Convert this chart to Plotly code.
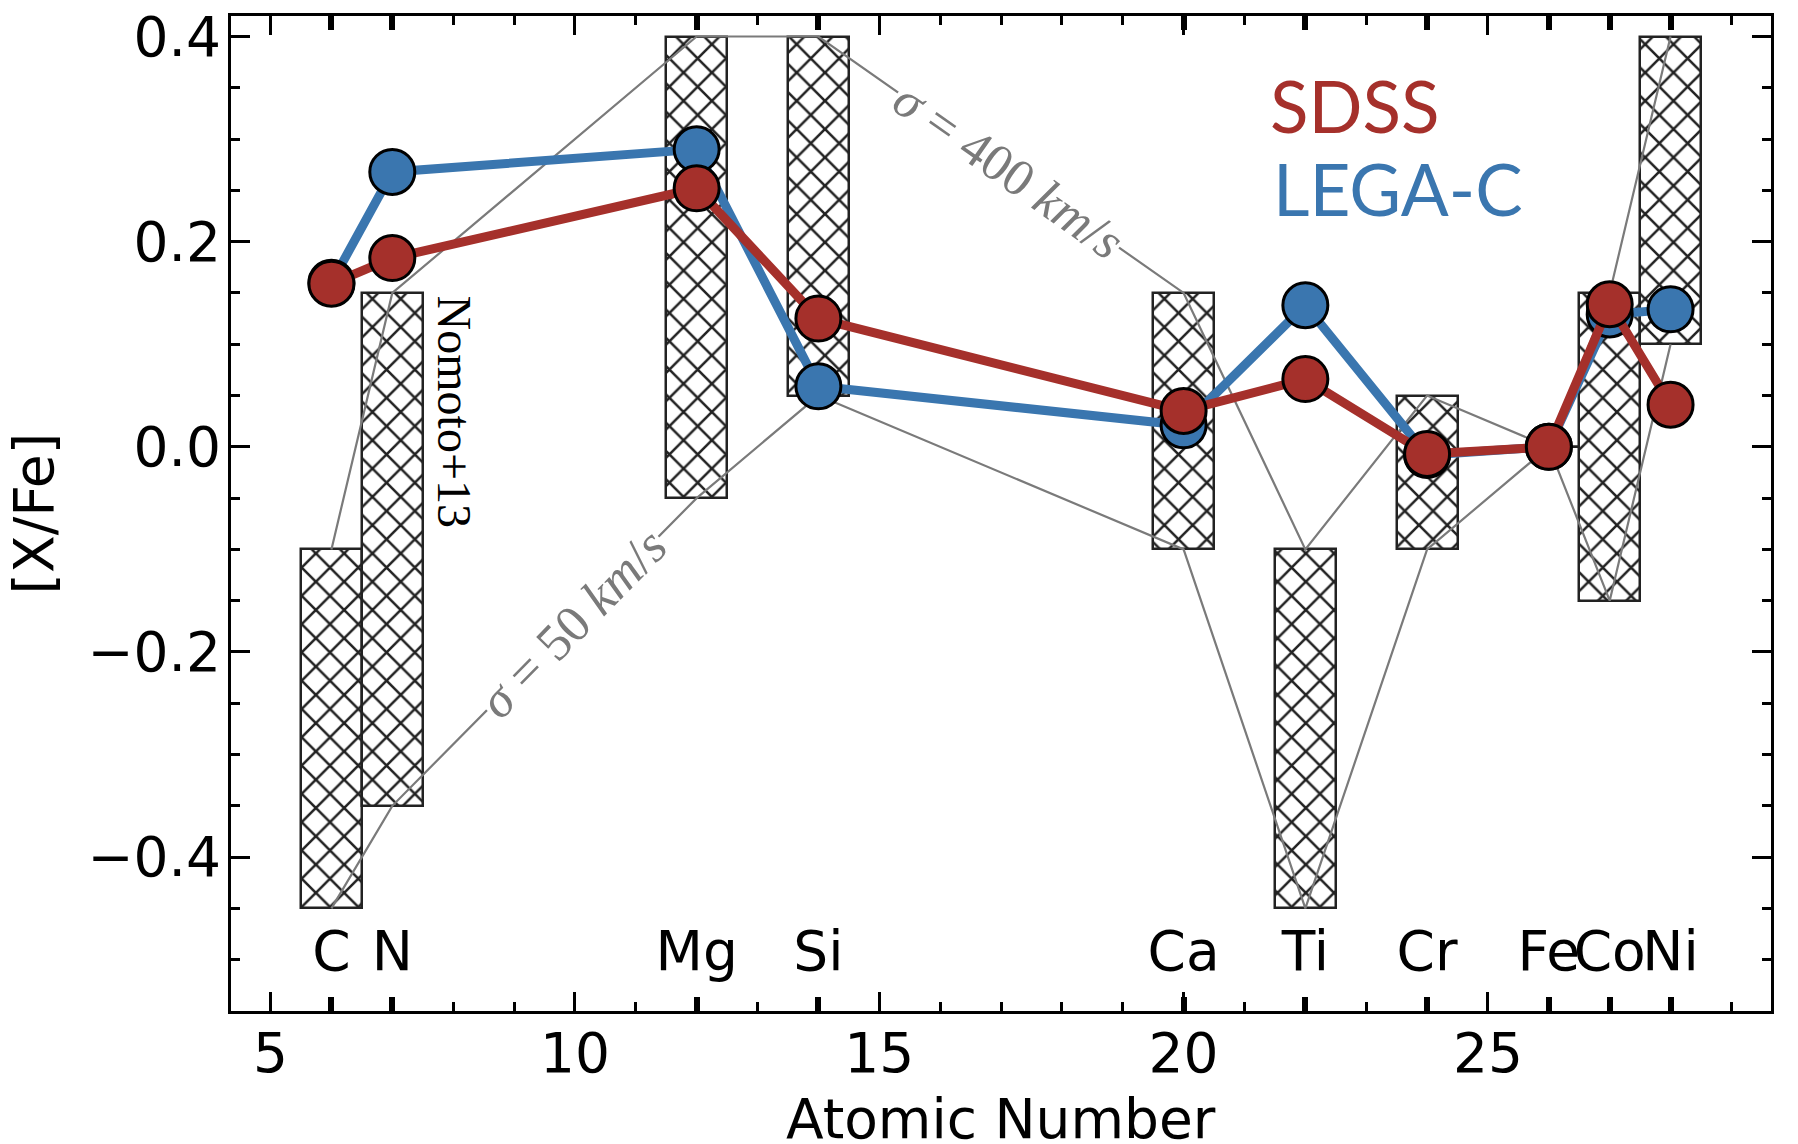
import plotly.graph_objects as go
import numpy as np

# ---------------- data ----------------
elements = ["C", "N", "Mg", "Si", "Ca", "Ti", "Cr", "Fe", "Co", "Ni"]
atomic_number = [6, 7, 12, 14, 20, 22, 24, 26, 27, 28]

sdss_xfe = [0.159, 0.184, 0.252, 0.125, 0.035, 0.066, -0.007, 0.0, 0.139, 0.041]
legac_xfe = [0.160, 0.268, 0.290, 0.059, 0.021, 0.138, -0.008, 0.0, 0.129, 0.134]

# Nomoto+13 model predictions at two velocity dispersions
nomoto_sigma50 = [-0.45, -0.35, -0.05, 0.05, -0.10, -0.45, -0.10, 0.0, -0.15, 0.10]
nomoto_sigma400 = [-0.10, 0.15, 0.40, 0.40, 0.15, -0.10, 0.05, 0.0, 0.15, 0.40]

x_tick_vals = [5, 10, 15, 20, 25]
x_tick_text = ["5", "10", "15", "20", "25"]
y_tick_vals = [-0.4, -0.2, 0.0, 0.2, 0.4]
y_tick_text = ["\u22120.4", "\u22120.2", "0.0", "0.2", "0.4"]

# ---------------- styles ----------------
RED = "#A5302B"
BLUE = "#3A76AF"
GRAY = "#7a7a7a"
HATCH = "#222222"
TICKFONT = dict(family="DejaVu Sans", size=55, color="black")

Z = np.array(atomic_number, dtype=float)
lo = np.minimum(nomoto_sigma50, nomoto_sigma400)
hi = np.maximum(nomoto_sigma50, nomoto_sigma400)

fig = go.Figure()

# hatched model boxes
fig.add_trace(go.Bar(
    x=Z, y=hi - lo, base=lo, width=1.0,
    marker=dict(color="white", line=dict(color=HATCH, width=2.5),
                pattern=dict(shape="x", fgcolor=HATCH, fgopacity=1, size=20,
                             solidity=0.24, fillmode="overlay")),
    hoverinfo="skip", showlegend=False))

# zero-height boxes drawn as an edge
for z, l, h in zip(Z, lo, hi):
    if h == l:
        fig.add_trace(go.Scatter(x=[z - 0.5, z + 0.5], y=[l, h], mode="lines",
                                 line=dict(color=HATCH, width=2.5),
                                 hoverinfo="skip", showlegend=False))

# model tracks
for track in (nomoto_sigma50, nomoto_sigma400):
    fig.add_trace(go.Scatter(x=Z, y=track, mode="lines",
                             line=dict(color=GRAY, width=2.2),
                             hoverinfo="skip", showlegend=False))

# measurements
fig.add_trace(go.Scatter(x=Z, y=legac_xfe, mode="lines+markers", name="LEGA-C",
                         line=dict(color=BLUE, width=9),
                         marker=dict(size=45, color=BLUE, line=dict(color="black", width=3)),
                         showlegend=False))
fig.add_trace(go.Scatter(x=Z, y=sdss_xfe, mode="lines+markers", name="SDSS",
                         line=dict(color=RED, width=9),
                         marker=dict(size=45, color=RED, line=dict(color="black", width=3)),
                         showlegend=False))

# element labels
fig.add_trace(go.Scatter(x=Z, y=[-0.497] * len(Z), xaxis="x2", mode="text",
                         text=elements, textposition="middle center",
                         textfont=TICKFONT, hoverinfo="skip", showlegend=False))

XR = [4.35, 29.65]
YR = [-0.55, 0.42]

fig.update_layout(
    width=1790, height=1136,
    margin=dict(l=223, r=27, t=8, b=133, autoexpand=False),
    plot_bgcolor="white", paper_bgcolor="white",
    showlegend=False, bargap=0,
    xaxis=dict(range=XR, tickmode="array", tickvals=x_tick_vals, ticktext=x_tick_text,
               ticks="inside", ticklen=19, tickwidth=3, tickcolor="black",
               showline=True, linewidth=3, linecolor="black", mirror="ticks",
               showgrid=False, zeroline=False, tickfont=TICKFONT, automargin=False,
               ticklabelstandoff=-8, ticklabeloverflow="allow",
               minor=dict(tickmode="linear", tick0=0, dtick=1, ticks="inside",
                          ticklen=9, tickwidth=2.5, tickcolor="black", showgrid=False)),
    xaxis2=dict(range=XR, overlaying="x", anchor="y", side="bottom",
                tickmode="array", tickvals=atomic_number, automargin=False,
                ticks="inside", ticklen=14, tickwidth=6, tickcolor="black",
                showticklabels=False, showline=False, showgrid=False,
                zeroline=False, mirror="ticks"),
    yaxis=dict(range=YR, tickmode="array", tickvals=y_tick_vals, ticktext=y_tick_text,
               ticks="inside", ticklen=19, tickwidth=3, tickcolor="black",
               showline=True, linewidth=3, linecolor="black", mirror="ticks",
               showgrid=False, zeroline=False, tickfont=TICKFONT, automargin=False,
               ticklabelstandoff=-4, ticklabeloverflow="allow",
               minor=dict(tickmode="linear", tick0=0, dtick=0.05, ticks="inside",
                          ticklen=9, tickwidth=2.5, tickcolor="black", showgrid=False)),
)

ann = []
# axis titles
ann.append(dict(text="Atomic Number", xref="paper", yref="paper", x=0.5, y=0,
                yshift=-108, xanchor="center", yanchor="middle", showarrow=False,
                font=dict(family="DejaVu Sans", size=55, color="black")))
ann.append(dict(text="[X/Fe]", xref="paper", yref="paper", x=0, y=0.5,
                xshift=-198, xanchor="center", yanchor="middle", textangle=-90,
                showarrow=False, font=dict(family="DejaVu Sans", size=55, color="black")))
# model label
ann.append(dict(text="Nomoto+13", x=8.02, y=0.034, xref="x", yref="y", textangle=90,
                showarrow=False, font=dict(family="Liberation Serif", size=48, color="black")))
# track labels
ann.append(dict(text="<i>σ</i> = 400 <i>km</i>/<i>s</i>", x=17.13, y=0.2696, xref="x", yref="y",
                textangle=35.1, showarrow=False, bgcolor="white",
                font=dict(family="Liberation Serif", size=52, color=GRAY)))
ann.append(dict(text="<i>σ</i> = 50 <i>km</i>/<i>s</i>", x=9.96, y=-0.172, xref="x", yref="y",
                textangle=-45.4, showarrow=False, bgcolor="white",
                font=dict(family="Liberation Serif", size=52, color=GRAY)))
# legend-like labels
ann.append(dict(text="SDSS", x=21.38, y=0.333, xref="x", yref="y", xanchor="left",
                yanchor="middle", showarrow=False,
                font=dict(family="Lato", size=71, color=RED)))
ann.append(dict(text="LEGA-C", x=21.43, y=0.252, xref="x", yref="y", xanchor="left",
                yanchor="middle", showarrow=False,
                font=dict(family="Lato", size=71, color=BLUE)))

fig.update_layout(annotations=ann)

fig.write_html("out.html")
